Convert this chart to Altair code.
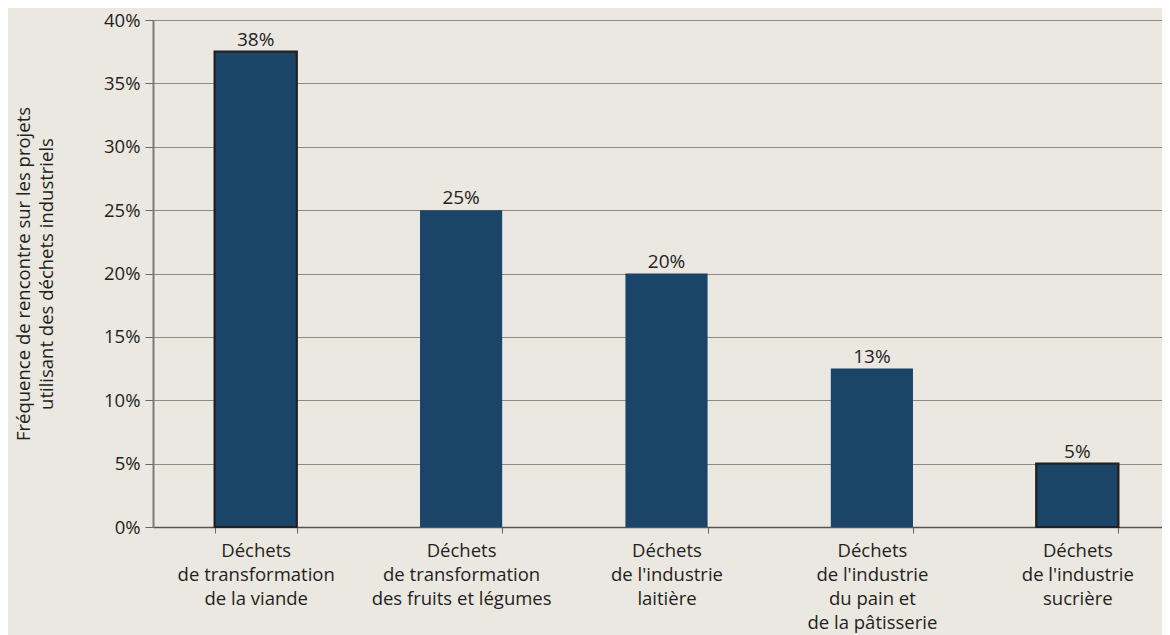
import altair as alt
import pandas as pd

categories = [
    "Déchets\nde transformation\nde la viande",
    "Déchets\nde transformation\ndes fruits et légumes",
    "Déchets\nde l'industrie\nlaitière",
    "Déchets\nde l'industrie\ndu pain et\nde la pâtisserie",
    "Déchets\nde l'industrie\nsucrière",
]
values = [0.375, 0.25, 0.20, 0.125, 0.05]
labels = ["38%", "25%", "20%", "13%", "5%"]
y_ticks = [0, 0.05, 0.10, 0.15, 0.20, 0.25, 0.30, 0.35, 0.40]
y_title = ["Fréquence de rencontre sur les projets", "utilisant des déchets industriels"]

df = pd.DataFrame({"cat": categories, "val": values, "lab": labels})

FONT = "Open Sans"
TXT = "#231f20"
BAR = "#1b4469"
BG = "#ebe7e1"

x_enc = alt.X(
    "cat:N",
    sort=categories,
    scale=alt.Scale(range=[0, 1027], paddingInner=0.6, paddingOuter=0.3),
    axis=alt.Axis(
        title=None,
        labelAngle=0,
        labelExpr="split(datum.label, '\\n')",
        labelFontSize=18.5,
        labelLineHeight=24,
        labelColor=TXT,
        labelFont=FONT,
        labelPadding=8,
        labelBaseline="top",
        tickBand="extent",
        tickSize=6,
        tickColor="#666666",
        domainColor="#555555",
        domainWidth=1.5,
        labelLimit=400,
    ),
)

bars = alt.Chart(df).mark_bar(color=BAR, strokeWidth=2.2).encode(
    x=x_enc,
    y=alt.Y(
        "val:Q",
        scale=alt.Scale(domain=[0, 0.4], nice=False),
        axis=alt.Axis(
            values=y_ticks,
            format=".0%",
            title=y_title,
            titleFontSize=18.5,
            titleFont=FONT,
            titleFontWeight="normal",
            titleColor=TXT,
            titlePadding=47,
            titleLineHeight=23,
            labelFontSize=18.5,
            labelFont=FONT,
            labelColor=TXT,
            labelPadding=5,
            tickSize=8,
            tickColor="#666666",
            domainColor="#7a7a7a",
            domainWidth=2,
            grid=True,
            gridColor="#8a8a8a",
            gridWidth=1,
        ),
    ),
    stroke=alt.condition(
        alt.FieldOneOfPredicate(field="cat", oneOf=[categories[0], categories[-1]]),
        alt.value(TXT),
        alt.value("transparent"),
    ),
)

text = alt.Chart(df).mark_text(
    fontSize=19, font=FONT, color=TXT, baseline="alphabetic", dy=-6
).encode(
    x=alt.X("cat:N", sort=categories),
    y="val:Q",
    text="lab:N",
)

chart = (
    alt.layer(bars, text)
    .properties(
        width=1009,
        height=507,
        background=BG,
        autosize=alt.AutoSizeParams(type="none"),
        padding={"left": 145, "top": 12, "right": 0, "bottom": 108},
    )
    .configure_view(stroke=None)
)

chart.save("out.html", embed_options={"renderer": "svg", "actions": False})
